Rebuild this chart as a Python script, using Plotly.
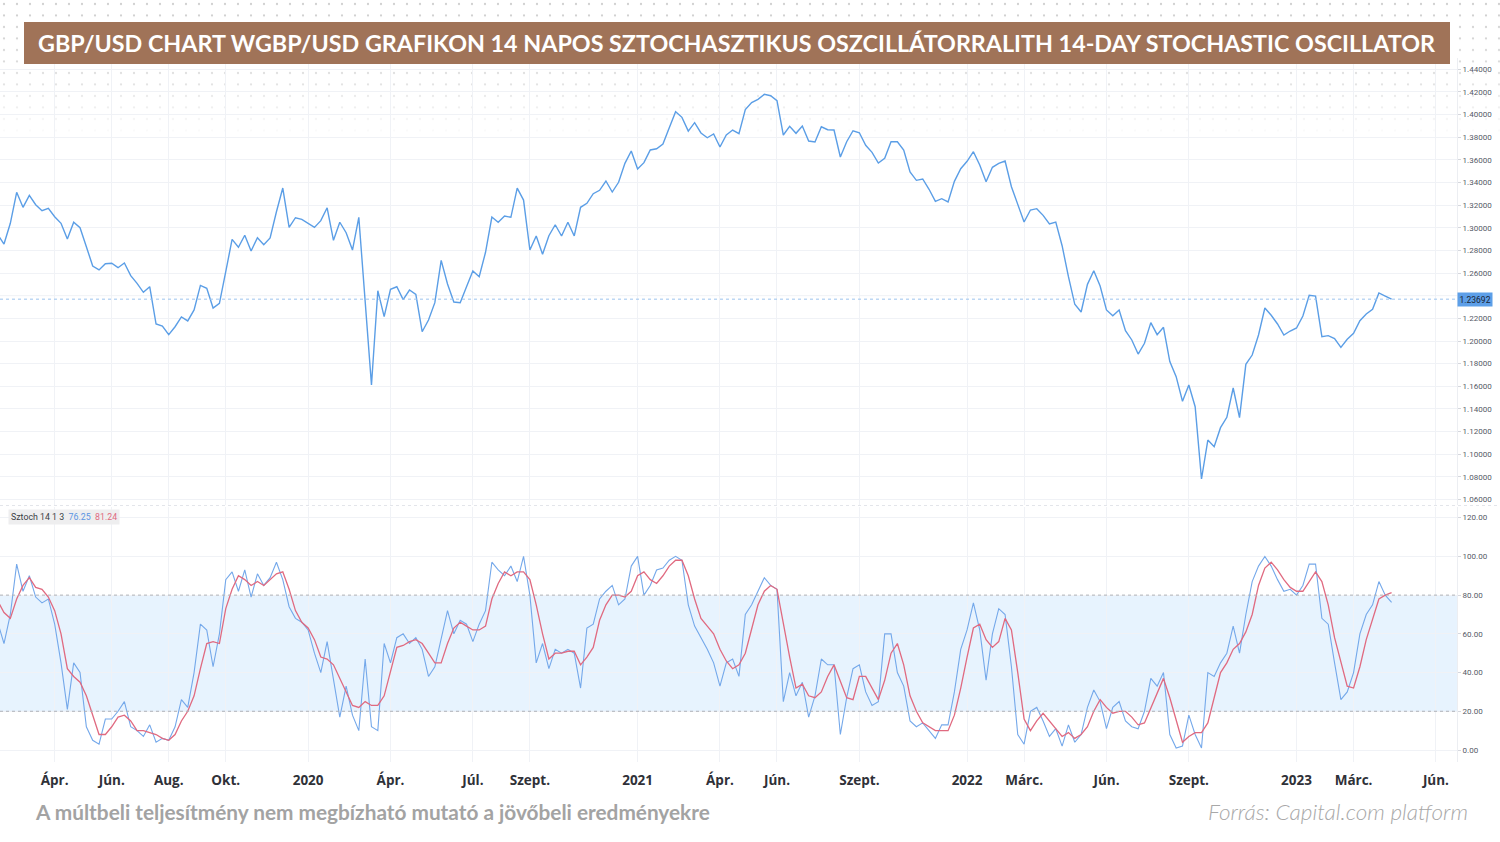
import base64
import pandas as pd
import plotly.graph_objects as go

W, H = 1500, 842

# ---------------- data ----------------
start_date = "2019-01-28"  # weekly bars (Mondays)

price = [
    1.2940, 1.2856, 1.3039, 1.3312, 1.3180, 1.3286, 1.3203, 1.3150, 1.3171, 1.3097,
    1.3039, 1.2900, 1.3048, 1.3000, 1.2832, 1.2662, 1.2627, 1.2682, 1.2686, 1.2647,
    1.2688, 1.2577, 1.2509, 1.2430, 1.2479, 1.2150, 1.2132, 1.2056, 1.2126, 1.2212,
    1.2177, 1.2274, 1.2491, 1.2465, 1.2291, 1.2333, 1.2612, 1.2897, 1.2827, 1.2933,
    1.2794, 1.2912, 1.2850, 1.2909, 1.3141, 1.3350, 1.3003, 1.3088, 1.3074, 1.3039,
    1.3003, 1.3062, 1.3176, 1.2889, 1.3048, 1.2956, 1.2803, 1.3092, 1.2391, 1.1612,
    1.2444, 1.2215, 1.2456, 1.2479, 1.2365, 1.2450, 1.2412, 1.2082, 1.2185, 1.2338,
    1.2712, 1.2503, 1.2344, 1.2338, 1.2479, 1.2618, 1.2568, 1.2783, 1.3094, 1.3048,
    1.3103, 1.3092, 1.3350, 1.3244, 1.2803, 1.2927, 1.2765, 1.2929, 1.3026, 1.2927,
    1.3048, 1.2927, 1.3180, 1.3215, 1.3300, 1.3330, 1.3412, 1.3315, 1.3401, 1.3568,
    1.3677, 1.3518, 1.3574, 1.3686, 1.3697, 1.3739, 1.3883, 1.4024, 1.3974, 1.3853,
    1.3927, 1.3836, 1.3794, 1.3827, 1.3712, 1.3818, 1.3862, 1.3830, 1.4042, 1.4104,
    1.4133, 1.4177, 1.4165, 1.4121, 1.3818, 1.3895, 1.3833, 1.3898, 1.3765, 1.3756,
    1.3891, 1.3865, 1.3862, 1.3624, 1.3759, 1.3856, 1.3838, 1.3727, 1.3665, 1.3571,
    1.3612, 1.3759, 1.3759, 1.3686, 1.3492, 1.3418, 1.3430, 1.3339, 1.3233, 1.3256,
    1.3227, 1.3409, 1.3521, 1.3586, 1.3671, 1.3553, 1.3406, 1.3533, 1.3568, 1.3589,
    1.3362, 1.3200, 1.3050, 1.3156, 1.3168, 1.3109, 1.3033, 1.3050, 1.2841, 1.2568,
    1.2324, 1.2256, 1.2500, 1.2620, 1.2485, 1.2274, 1.2223, 1.2274, 1.2091, 1.2009,
    1.1885, 1.1980, 1.2162, 1.2056, 1.2121, 1.1818, 1.1685, 1.1468, 1.1612, 1.1420,
    1.0782, 1.1126, 1.1067, 1.1235, 1.1326, 1.1585, 1.1323, 1.1794, 1.1876, 1.2053,
    1.2291, 1.2227, 1.2150, 1.2053, 1.2088, 1.2115, 1.2221, 1.2403, 1.2397, 1.2038,
    1.2047, 1.2021, 1.1944, 1.2015, 1.2068, 1.2179, 1.2238, 1.2280, 1.2424, 1.2397,
    1.23692,
]

stoch_k = [
    66, 55, 70, 96, 82, 90, 79, 76, 78, 65, 45, 21, 45, 40, 12, 5, 3, 16, 16, 20,
    25, 12, 10, 7, 13, 4, 6, 5, 12, 26, 22, 40, 65, 62, 43, 60, 88, 92, 82, 93,
    79, 91, 85, 89, 97, 88, 74, 68, 66, 62, 50, 40, 56, 36, 17, 33, 18, 10, 47, 12,
    10, 55, 45, 58, 60, 55, 58, 52, 38, 43, 57, 72, 60, 67, 65, 56, 65, 72, 97, 93,
    90, 95, 87, 100, 80, 45, 55, 42, 52, 50, 52, 50, 32, 63, 65, 78, 82, 85, 75, 78,
    95, 100, 80, 85, 93, 94, 98, 100, 98, 75, 64, 58, 52, 45, 33, 45, 47, 38, 70, 75,
    82, 89, 85, 83, 25, 40, 28, 35, 17, 28, 47, 44, 44, 8, 27, 42, 44, 30, 23, 25,
    60, 60, 40, 33, 15, 12, 14, 10, 6, 13, 13, 30, 52, 62, 76, 62, 36, 60, 73, 70,
    43, 8, 3, 20, 22, 15, 7, 11, 2, 13, 4, 8, 22, 31, 25, 11, 22, 25, 15, 12,
    11, 20, 37, 33, 40, 8, 1, 2, 18, 8, 1, 40, 38, 45, 50, 64, 50, 70, 87, 95,
    100, 95, 88, 82, 83, 80, 85, 96, 96, 68, 65, 45, 26, 30, 40, 60, 70, 75, 87, 80,
    76.25,
]

stoch_d = [
    77, 71, 68, 78, 85, 89, 84, 83, 79, 72, 60, 42, 38, 35, 28, 18, 8, 8, 12, 17,
    18, 15, 10, 10, 9, 8, 6, 5, 8, 15, 20, 28, 42, 55, 56, 55, 73, 83, 90, 88,
    85, 87, 85, 88, 91, 92, 83, 72, 66, 63, 57, 48, 47, 44, 37, 30, 23, 22, 25, 23,
    23, 28, 40, 53, 54, 56, 57, 55, 50, 45, 45, 55, 63, 66, 64, 62, 62, 64, 78, 86,
    92, 90, 92, 92, 88, 75, 60, 47, 50, 50, 51, 51, 44, 48, 53, 67, 75, 80, 80, 79,
    82, 90, 92, 88, 86, 90, 95, 98, 98, 90, 78, 68, 64, 60, 52, 46, 42, 44, 50, 62,
    75, 82, 85, 83, 65, 48, 32, 34, 28, 27, 30, 38, 44, 35, 27, 26, 38, 38, 32, 26,
    36, 50, 55, 44, 28, 20, 14, 12, 10, 10, 10, 18, 32, 48, 63, 65, 57, 53, 56, 68,
    62, 40, 16, 10, 15, 19, 15, 11, 7, 9, 6, 8, 12, 20, 26, 22, 19, 20, 20, 17,
    13, 14, 22, 30, 37, 27, 16, 4, 7, 9, 9, 14, 27, 40, 45, 52, 55, 61, 70, 85,
    94, 97, 93, 88, 84, 82, 82, 87, 92, 87, 75, 58, 45, 33, 32, 43, 57, 68, 78, 80,
    81.24,
]

tick_dates = [
    "2019-04-01", "2019-06-03", "2019-08-05", "2019-10-07", "2020-01-06",
    "2020-04-06", "2020-07-06", "2020-09-07", "2021-01-04", "2021-04-05",
    "2021-06-07", "2021-09-06", "2022-01-03", "2022-03-07", "2022-06-06",
    "2022-09-05", "2023-01-02", "2023-03-06", "2023-06-05",
]
tick_labels = [
    "Ápr.", "Jún.", "Aug.", "Okt.", "2020", "Ápr.", "Júl.", "Szept.", "2021", "Ápr.",
    "Jún.", "Szept.", "2022", "Márc.", "Jún.", "Szept.", "2023", "Márc.", "Jún.",
]
# 1.24 is hidden behind the last-price label, as in the source chart
price_ticks = [1.06, 1.08, 1.10, 1.12, 1.14, 1.16, 1.18, 1.20, 1.22, 1.26,
               1.28, 1.30, 1.32, 1.34, 1.36, 1.38, 1.40, 1.42, 1.44]
hidden_price_grid = [1.24]
stoch_ticks = [0, 20, 40, 60, 80, 100, 120]

title_text = ("GBP/USD CHART WGBP/USD GRAFIKON 14 NAPOS SZTOCHASZTIKUS "
              "OSZCILLÁTORRALITH 14-DAY STOCHASTIC OSCILLATOR")
footer_left = "A múltbeli teljesítmény nem megbízható mutató a jövőbeli eredményekre"
footer_right = "Forrás: Capital.com platform"

# ---------------- layout helpers ----------------
t0 = pd.Timestamp(start_date)
dates = pd.date_range(t0, periods=len(price), freq="7D")

PX_PER_DAY = 6.336 / 7.0
X0_PX = -2.34  # pixel of first bar
x_right_px = 1457
x_range = [t0 + pd.Timedelta(days=(0 - X0_PX) / PX_PER_DAY),
           t0 + pd.Timedelta(days=(x_right_px - X0_PX) / PX_PER_DAY)]


def py(px):
    return 1 - px / H


XD = [0, x_right_px / W]
price_dom = [py(505), py(58)]
stoch_dom = [py(762), py(507)]
price_range = [1.20 - (505 - 341) / 1133.0, 1.20 + (341 - 58) / 1133.0]
stoch_range = [(750 - 762) / 1.936, (750 - 507) / 1.936]

PRICE_BLUE = "#5b9ee6"
K_BLUE = "#74a8ea"
K_TEXT = "#5b95e3"
D_RED = "#e06a80"
GRID = "#f0f2f6"
AX_FONT = dict(family="Roboto", size=8, color="#555a66")

# dotted background pattern (decorative)
svg = (
    "<svg xmlns='http://www.w3.org/2000/svg' width='1500' height='140'>"
    "<defs>"
    "<pattern id='p' width='13' height='11.5' patternUnits='userSpaceOnUse'>"
    "<circle cx='4' cy='4' r='1.1' fill='#c8c8c8'/></pattern>"
    "<linearGradient id='g' x1='0' y1='0' x2='0' y2='1'>"
    "<stop offset='0' stop-color='white' stop-opacity='1'/>"
    "<stop offset='0.5' stop-color='white' stop-opacity='0.7'/>"
    "<stop offset='1' stop-color='white' stop-opacity='0'/></linearGradient>"
    "<mask id='m'><rect width='1500' height='140' fill='url(#g)'/></mask>"
    "</defs>"
    "<rect width='1500' height='140' fill='url(#p)' mask='url(#m)'/>"
    "</svg>"
)
svg_uri = "data:image/svg+xml;base64," + base64.b64encode(svg.encode()).decode()

fig = go.Figure()

fig.add_trace(go.Scatter(x=dates, y=price, mode="lines",
                         line=dict(color=PRICE_BLUE, width=1.4),
                         xaxis="x", yaxis="y", hoverinfo="skip", showlegend=False))
fig.add_trace(go.Scatter(x=dates, y=stoch_k, mode="lines",
                         line=dict(color=K_BLUE, width=1.1),
                         xaxis="x2", yaxis="y2", hoverinfo="skip", showlegend=False))
fig.add_trace(go.Scatter(x=dates, y=stoch_d, mode="lines",
                         line=dict(color=D_RED, width=1.3),
                         xaxis="x2", yaxis="y2", hoverinfo="skip", showlegend=False))

common_x = dict(type="date", range=x_range, domain=XD, tickvals=tick_dates,
                showgrid=True, gridcolor=GRID, gridwidth=1, zeroline=False,
                showline=False, ticks="", fixedrange=True)

shapes = [
    dict(type="rect", xref="x2", yref="y2", x0=x_range[0], x1=x_range[1], y0=20, y1=80,
         fillcolor="rgba(33,150,243,0.11)", line=dict(width=0), layer="below"),
    dict(type="line", xref="x2", yref="y2", x0=x_range[0], x1=x_range[1], y0=80, y1=80,
         line=dict(color="#aeb1b8", width=1, dash="3px,3px")),
    dict(type="line", xref="x2", yref="y2", x0=x_range[0], x1=x_range[1], y0=20, y1=20,
         line=dict(color="#aeb1b8", width=1, dash="3px,3px")),
    dict(type="line", xref="paper", yref="y", x0=0, x1=XD[1], y0=price[-1], y1=price[-1],
         line=dict(color="#9cc3ee", width=1, dash="dot")),
    dict(type="line", xref="paper", yref="paper", x0=0, x1=1, y0=py(505.5), y1=py(505.5),
         line=dict(color="#e3e5ea", width=1, dash="3px,3px")),
    dict(type="rect", xref="paper", yref="paper", x0=24 / W, x1=1450 / W,
         y0=py(64), y1=py(22), fillcolor="#a07358", line=dict(width=0), layer="above"),
]
for g in hidden_price_grid:
    shapes.append(dict(type="line", xref="paper", yref="y", x0=0, x1=XD[1], y0=g, y1=g,
                       line=dict(color=GRID, width=1), layer="below"))

annotations = [
    dict(text=title_text, xref="paper", yref="paper", x=737 / W, y=py(43),
         xanchor="center", yanchor="middle", showarrow=False,
         font=dict(family="Lato", size=23.3, color="white", weight=700)),
    dict(text=f"{price[-1]:.5f}", xref="paper", yref="y", x=XD[1], y=price[-1],
         xanchor="left", yanchor="middle", showarrow=False, bgcolor="#5d9fe8",
         borderpad=1.5, font=dict(family="Roboto", size=8.5, color="#1b2433")),
    dict(text=(f"Sztoch 14 1 3  <span style='color:{K_TEXT}'>{stoch_k[-1]:.2f}</span>"
               f"  <span style='color:{D_RED}'>{stoch_d[-1]:.2f}</span>"),
         xref="paper", yref="paper", x=8 / W, y=py(516.5), xanchor="left",
         yanchor="middle", showarrow=False, bgcolor="#eeeeef", borderpad=2,
         font=dict(family="Roboto", size=8.8, color="#3a3d45")),
    dict(text=footer_left, xref="paper", yref="paper", x=33 / W, y=py(811),
         xanchor="left", yanchor="middle", showarrow=False,
         font=dict(family="Lato", size=20.8, color="#a3a3a3", weight=700)),
    dict(text=footer_right, xref="paper", yref="paper", x=1470 / W, y=py(811),
         xanchor="right", yanchor="middle", showarrow=False,
         font=dict(family="Lato", size=22.5, color="#a8a8a8", weight=300,
                   style="italic")),
]

fig.update_layout(
    width=W, height=H,
    margin=dict(l=0, r=0, t=0, b=0),
    paper_bgcolor="#ffffff",
    plot_bgcolor="rgba(0,0,0,0)",
    showlegend=False,
    xaxis=dict(**common_x, anchor="y", showticklabels=False),
    xaxis2=dict(**common_x, anchor="y2", matches="x", showticklabels=True,
                ticktext=tick_labels, ticklabelstandoff=8,
                tickfont=dict(family="Open Sans", size=13.5, color="#2f3138",
                              weight=700)),
    yaxis=dict(domain=price_dom, range=price_range, side="right", anchor="x",
               tickvals=price_ticks, tickformat=".5f", tickfont=AX_FONT,
               showgrid=True, gridcolor=GRID, zeroline=False,
               showline=True, linecolor="#eceef2", ticks="outside", ticklen=3,
               tickcolor="#d5d7dd", fixedrange=True),
    yaxis2=dict(domain=stoch_dom, range=stoch_range, side="right", anchor="x2",
                tickvals=stoch_ticks, tickformat=".2f", tickfont=AX_FONT,
                showgrid=True, gridcolor=GRID, zeroline=False,
                showline=True, linecolor="#eceef2", ticks="outside", ticklen=3,
                tickcolor="#d5d7dd", fixedrange=True),
    shapes=shapes,
    annotations=annotations,
    images=[dict(source=svg_uri, xref="paper", yref="paper", x=0, y=1,
                 sizex=1, sizey=140 / H, xanchor="left", yanchor="top",
                 sizing="stretch", layer="below")],
)

fig.write_html("out.html",
               config={"displayModeBar": False},
               post_script="document.body.style.margin='0px';"
                           "document.body.style.overflow='hidden';")
